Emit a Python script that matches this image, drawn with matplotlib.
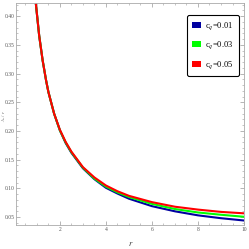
import matplotlib
matplotlib.use("Agg")
import matplotlib.pyplot as plt
from matplotlib.ticker import MultipleLocator
from matplotlib.patches import Patch

# values
r = [0.96, 1.1, 1.25, 1.4, 1.5, 1.75, 2.0, 2.25, 2.5, 3.0, 3.5, 4.0, 4.5, 5.0, 6.0, 7.0, 8.0, 9.0, 10.0]
v_001 = [0.420, 0.366, 0.323, 0.288, 0.268, 0.230, 0.201, 0.179, 0.162, 0.135, 0.116, 0.101, 0.091, 0.082, 0.069, 0.060, 0.053, 0.048, 0.044]
v_003 = [0.420, 0.366, 0.323, 0.288, 0.268, 0.230, 0.201, 0.180, 0.163, 0.136, 0.117, 0.103, 0.093, 0.085, 0.073, 0.064, 0.058, 0.054, 0.0505]
v_005 = [0.420, 0.366, 0.323, 0.288, 0.268, 0.230, 0.202, 0.181, 0.164, 0.137, 0.119, 0.105, 0.095, 0.087, 0.076, 0.068, 0.063, 0.059, 0.0565]
labels = ["c$_q$=0.01", "c$_q$=0.03", "c$_q$=0.05"]
colors = ["#0000a0", "#00ff00", "#ff0000"]

plt.rcParams['font.family'] = ['Liberation Serif', 'DejaVu Serif']
plt.rcParams['mathtext.fontset'] = 'stix'

fig = plt.figure(figsize=(2.49, 2.49), dpi=100)
ax = fig.add_axes([0.064, 0.096, 0.916, 0.892])

for ys, lab, c in zip([v_001, v_003, v_005], labels, colors):
    ax.plot(r, ys, color=c, lw=1.5)

ax.set_xlim(0.09, 10)
ax.set_ylim(0.036, 0.423)
ax.xaxis.set_major_locator(MultipleLocator(2))
ax.xaxis.set_minor_locator(MultipleLocator(0.5))
ax.yaxis.set_major_locator(MultipleLocator(0.05))
ax.yaxis.set_minor_locator(MultipleLocator(0.01))
ax.tick_params(which='both', direction='in', top=True, right=True,
               labelsize=4.0, colors='#999999', labelcolor='#555555', pad=1.2)
ax.tick_params(which='major', length=3, width=0.5)
ax.tick_params(which='minor', length=1.5, width=0.4)
for s in ax.spines.values():
    s.set_color('#aaaaaa')
    s.set_linewidth(0.6)

fig.text(0.527, 0.012, "$r$", fontsize=6, color='#333333', ha='center')
fig.text(0.0, 0.535, "$A_r$ / $r$", fontsize=3.5, color='#555555', rotation=90, va='center')

handles = [Patch(facecolor=c, edgecolor='none', label=lab) for c, lab in zip(colors, labels)]
leg = ax.legend(handles=handles, loc='upper right', bbox_to_anchor=(0.995, 0.965), fontsize=6,
                handlelength=1.1, handleheight=0.7, handletextpad=0.5,
                labelspacing=0.95, borderpad=0.6, fancybox=True, framealpha=1)
leg.get_frame().set_edgecolor('black')
leg.get_frame().set_linewidth(0.8)

fig.savefig("out.png", dpi=100)
